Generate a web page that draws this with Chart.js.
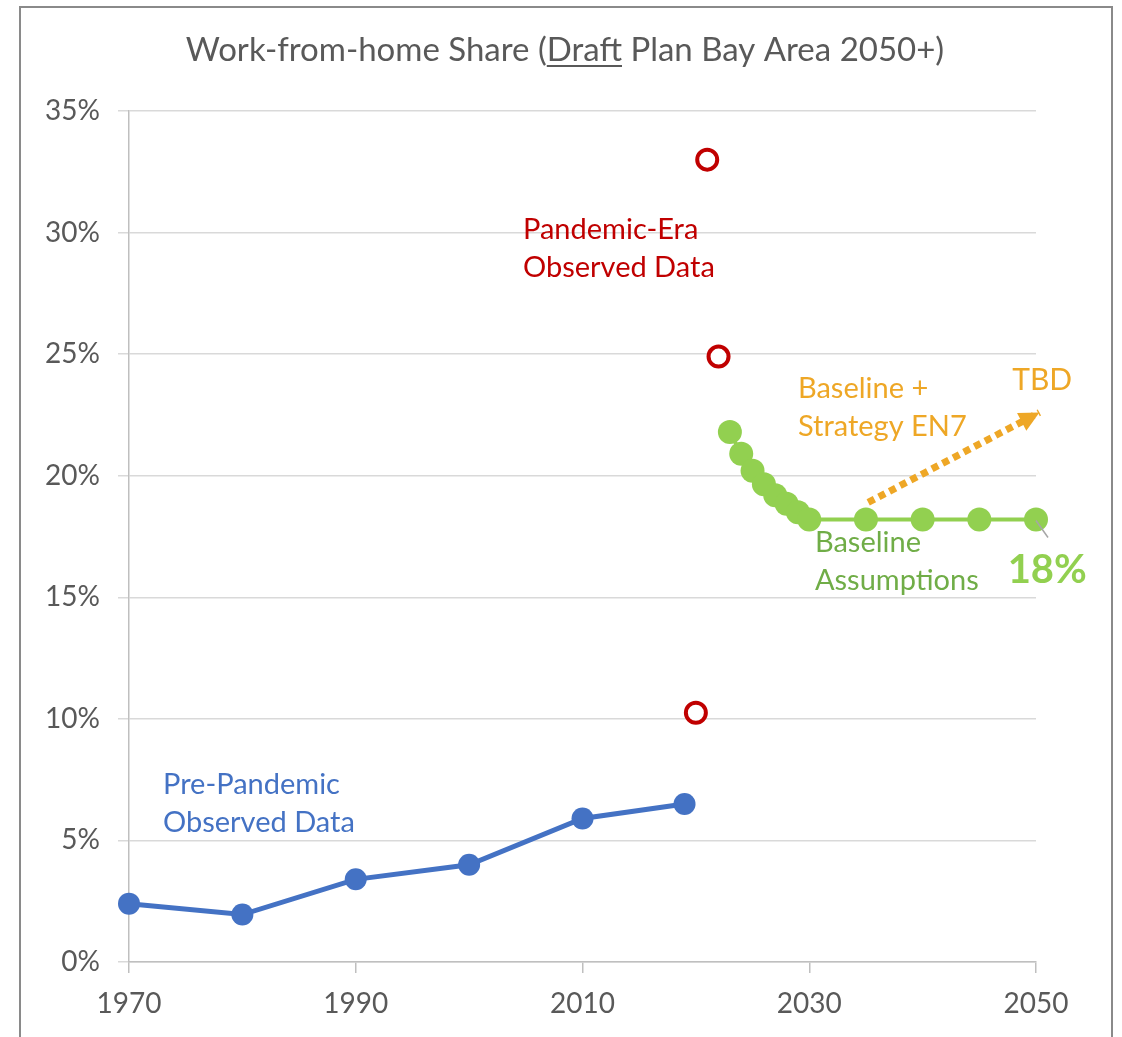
<!DOCTYPE html>
<html>
<head>
<meta charset="utf-8">
<script src="https://cdn.jsdelivr.net/npm/chart.js@4/dist/chart.umd.min.js"></script>
<style>
  body { margin: 0; background: #fff; }
  #wrap { width: 1122px; height: 1037px; }
</style>
</head>
<body>
<div id="wrap"><canvas id="wfhChart" width="1122" height="1037"></canvas></div>
<script>
// Work-from-home share, percent of workers
const preYears = [1970, 1980, 1990, 2000, 2010, 2019];
const preShare = [2.4, 1.95, 3.4, 4.0, 5.9, 6.5];

const pandemicYears = [2020, 2021, 2022];
const pandemicShare = [10.25, 33.0, 24.9];

const baselineYears = [2023, 2024, 2025, 2026, 2027, 2028, 2029, 2030, 2035, 2040, 2045, 2050];
const baselineShare = [21.8, 20.9, 20.2, 19.65, 19.2, 18.85, 18.5, 18.2, 18.2, 18.2, 18.2, 18.2];

// dotted arrow for the strategy scenario (start, tip)
const strategyYears = [2035.2, 2050.3];
const strategyShare = [18.9, 22.6];

const xTicks = [1970, 1990, 2010, 2030, 2050];

const FONT = 'Lato, "Open Sans", sans-serif';

function points(xs, ys) {
    return xs.map((x, i) => ({ x: x, y: ys[i] }));
}

// Frame, title, labels and the arrow head
const decor = {
    id: 'decor',
    beforeDraw(chart) {
        const ctx = chart.ctx;
        ctx.save();
        ctx.fillStyle = '#fff';
        ctx.fillRect(0, 0, chart.width, chart.height);
        ctx.strokeStyle = '#8a8a8a';
        ctx.lineWidth = 2;
        ctx.strokeRect(20, 7, 1092, 1060);
        ctx.restore();
    },
    afterDatasetsDraw(chart) {
        const ctx = chart.ctx;
        const xs = chart.scales.x, ys = chart.scales.y;
        ctx.save();

        // title with underlined "Draft"
        ctx.font = '33px ' + FONT;
        ctx.fillStyle = '#595959';
        ctx.textBaseline = 'alphabetic';
        const parts = ['Work-from-home Share (', 'Draft', ' Plan Bay Area 2050+)'];
        const widths = parts.map(p => ctx.measureText(p).width);
        let tx = 565 - (widths[0] + widths[1] + widths[2]) / 2;
        parts.forEach((p, i) => {
            ctx.fillText(p, tx, 61);
            if (i === 1) {
                ctx.fillRect(tx, 65, widths[i], 2);
            }
            tx += widths[i];
        });

        // arrow head at the end of the strategy line
        const x0 = xs.getPixelForValue(strategyYears[0]), y0 = ys.getPixelForValue(strategyShare[0]);
        const x1 = xs.getPixelForValue(strategyYears[1]), y1 = ys.getPixelForValue(strategyShare[1]);
        const ang = Math.atan2(y1 - y0, x1 - x0);
        ctx.translate(x1, y1);
        ctx.rotate(ang);
        ctx.fillStyle = '#EEA726';
        ctx.beginPath();
        ctx.moveTo(0, 0);
        ctx.lineTo(-20, -10);
        ctx.lineTo(-20, 10);
        ctx.closePath();
        ctx.fill();
        ctx.setTransform(1, 0, 0, 1, 0, 0);

        // leader line from "18%" to the last point
        const lx = xs.getPixelForValue(2050), ly = ys.getPixelForValue(18.2);
        ctx.strokeStyle = '#a6a6a6';
        ctx.lineWidth = 1.5;
        ctx.beginPath();
        ctx.moveTo(lx, ly + 1);
        ctx.lineTo(lx + 12, ly + 18);
        ctx.stroke();

        // text labels anchored in data units
        const labels = [
            { lines: ['Pandemic-Era', 'Observed Data'], x: 2004.75, y: 30.1, color: '#C00000', font: '29px ' + FONT },
            { lines: ['Pre-Pandemic', 'Observed Data'], x: 1973.0, y: 7.28, color: '#4472C4', font: '29px ' + FONT },
            { lines: ['Baseline +', 'Strategy EN7'], x: 2029.0, y: 23.57, color: '#EEA726', font: '29px ' + FONT },
            { lines: ['TBD'], x: 2047.9, y: 23.94, color: '#EEA726', font: '30px ' + FONT },
            { lines: ['Baseline', 'Assumptions'], x: 2030.5, y: 17.23, color: '#70AD47', font: '29px ' + FONT },
            { lines: ['18%'], x: 2047.5, y: 16.12, color: '#92D050', font: 'bold 40px ' + FONT }
        ];
        ctx.textBaseline = 'middle';
        ctx.textAlign = 'left';
        labels.forEach(l => {
            ctx.font = l.font;
            ctx.fillStyle = l.color;
            const px = xs.getPixelForValue(l.x);
            const py = ys.getPixelForValue(l.y);
            l.lines.forEach((t, i) => ctx.fillText(t, px, py + i * 38));
        });
        ctx.restore();
    }
};

const ctx = document.getElementById('wfhChart').getContext('2d');
const chart = new Chart(ctx, {
    type: 'scatter',
    data: {
        datasets: [
            {
                data: points(pandemicYears, pandemicShare),
                showLine: false,
                pointRadius: 10,
                pointBorderWidth: 4,
                pointBorderColor: '#C00000',
                pointBackgroundColor: '#fff'
            },
            {
                data: points(preYears, preShare),
                showLine: true,
                borderColor: '#4472C4',
                borderWidth: 5,
                pointRadius: 11,
                pointBorderWidth: 0,
                pointBackgroundColor: '#4472C4'
            },
            {
                data: points(baselineYears, baselineShare),
                showLine: true,
                borderColor: '#92D050',
                borderWidth: 4,
                pointRadius: 12,
                pointBorderWidth: 0,
                pointBackgroundColor: '#92D050'
            },
            {
                data: points(strategyYears, strategyShare),
                showLine: true,
                borderColor: '#EEA726',
                borderWidth: 7,
                borderDash: [7, 5],
                borderCapStyle: 'butt',
                pointRadius: 0
            }
        ]
    },
    options: {
        responsive: false,
        animation: false,
        clip: false,
        layout: {
            padding: { top: 111, left: 0, right: 86, bottom: 0 }
        },
        plugins: {
            legend: { display: false },
            tooltip: { enabled: false }
        },
        scales: {
            x: {
                type: 'linear',
                min: 1970,
                max: 2050,
                afterFit: s => { s.height = 75; },
                afterBuildTicks: s => { s.ticks = xTicks.map(v => ({ value: v })); },
                grid: {
                    drawOnChartArea: false,
                    drawTicks: true,
                    tickLength: 11,
                    color: '#bfbfbf',
                    lineWidth: 1.5
                },
                border: { color: '#bfbfbf', width: 1.5 },
                ticks: {
                    padding: 14,
                    color: '#595959',
                    font: { family: FONT, size: 28 },
                    maxRotation: 0,
                    callback: v => String(v)
                }
            },
            y: {
                min: 0,
                max: 35,
                afterFit: s => { s.width = 129; },
                grid: {
                    color: '#d9d9d9',
                    lineWidth: 1.5,
                    tickLength: 11
                },
                border: { color: '#bfbfbf', width: 1.5 },
                ticks: {
                    stepSize: 5,
                    padding: 18,
                    color: '#595959',
                    font: { family: FONT, size: 28 },
                    callback: v => v + '%'
                }
            }
        }
    },
    plugins: [decor]
});
</script>
</body>
</html>
